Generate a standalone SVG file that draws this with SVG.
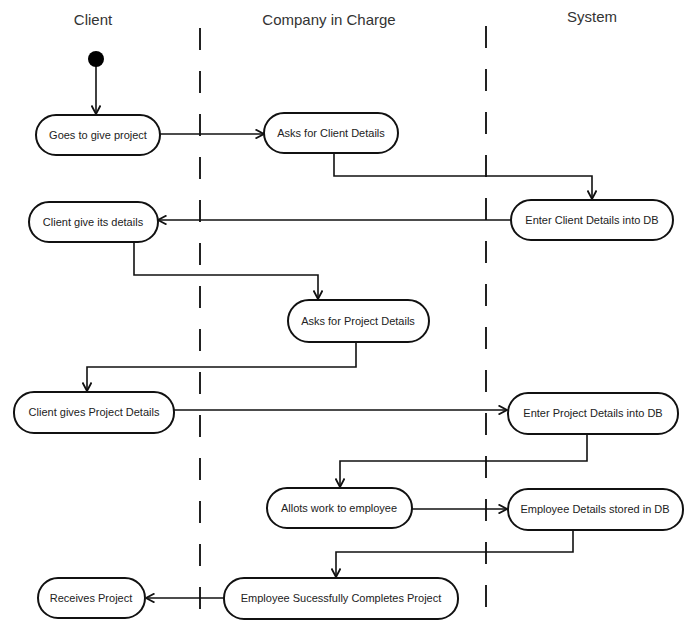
<svg xmlns="http://www.w3.org/2000/svg" width="693" height="621" viewBox="0 0 693 621">
<style>
.lane{font-family:"Liberation Sans",Arial,sans-serif;font-size:15px;fill:#333;text-anchor:middle}
.node rect{fill:#fff;stroke:#111;stroke-width:2}
.node text{font-family:"Liberation Sans",Arial,sans-serif;font-size:11px;fill:#222;text-anchor:middle;dominant-baseline:central}
.sep{stroke:#222;stroke-width:2;stroke-dasharray:22,21;fill:none}
.edge{stroke:#111;stroke-width:1.6;fill:none;marker-end:url(#arr)}
</style>
<defs>
<marker id="arr" viewBox="0 0 10 10" refX="9.5" refY="5" markerWidth="10" markerHeight="10" markerUnits="userSpaceOnUse" orient="auto">
<path d="M1,0.5 L9.5,5 L1,9.5" fill="none" stroke="#111" stroke-width="1.8"/>
</marker>
</defs>
<rect width="693" height="621" fill="#fff"/>
<g id="lanes">
<text class="lane" x="93" y="25">Client</text>
<text class="lane" x="329" y="25">Company in Charge</text>
<text class="lane" x="592" y="22">System</text>
<line class="sep" x1="200" y1="28" x2="200" y2="621"/>
<line class="sep" x1="486" y1="26" x2="486" y2="621"/>
</g>
<g id="connectors">
<path class="edge" d="M96,66 L96,114"/>
<path class="edge" d="M160,134 L264,134"/>
<path class="edge" d="M334,153 L334,176 L592,176 L592,199"/>
<path class="edge" d="M511,220 L158,220"/>
<path class="edge" d="M134,243 L134,275 L318,275 L318,299"/>
<path class="edge" d="M356,342 L356,367 L87,367 L87,391"/>
<path class="edge" d="M174,410 L507,410"/>
<path class="edge" d="M587,434 L587,461 L340,461 L340,487"/>
<path class="edge" d="M412,509 L507,509"/>
<path class="edge" d="M573,530 L573,552 L336,552 L336,577"/>
<path class="edge" d="M224,598 L146,598"/>
</g>
<g id="start"><circle cx="96" cy="59" r="8" fill="#000"/></g>
<g id="n1" class="node"><rect x="36" y="115" width="124" height="40" rx="20"/><text x="98" y="135">Goes to give project</text></g>
<g id="n2" class="node"><rect x="264" y="113" width="134" height="40" rx="20"/><text x="331" y="133">Asks for Client Details</text></g>
<g id="n3" class="node"><rect x="511" y="200" width="162" height="40" rx="20"/><text x="592" y="220">Enter Client Details into DB</text></g>
<g id="n4" class="node"><rect x="29" y="202" width="129" height="40" rx="20"/><text x="93" y="222">Client give its details</text></g>
<g id="n5" class="node"><rect x="288" y="300" width="141" height="42" rx="21"/><text x="358" y="321">Asks for Project Details</text></g>
<g id="n6" class="node"><rect x="14" y="392" width="160" height="41" rx="20"/><text x="94" y="412">Client gives Project Details</text></g>
<g id="n7" class="node"><rect x="508" y="393" width="170" height="41" rx="20"/><text x="593" y="413">Enter Project Details into DB</text></g>
<g id="n8" class="node"><rect x="267" y="488" width="145" height="40" rx="20"/><text x="339" y="508">Allots work to employee</text></g>
<g id="n9" class="node"><rect x="508" y="489" width="175" height="41" rx="20"/><text x="595" y="509">Employee Details stored in DB</text></g>
<g id="n10" class="node"><rect x="224" y="578" width="234" height="41" rx="20"/><text x="341" y="598">Employee Sucessfully Completes Project</text></g>
<g id="n11" class="node"><rect x="38" y="578" width="107" height="40" rx="20"/><text x="91" y="598">Receives Project</text></g>
</svg>
